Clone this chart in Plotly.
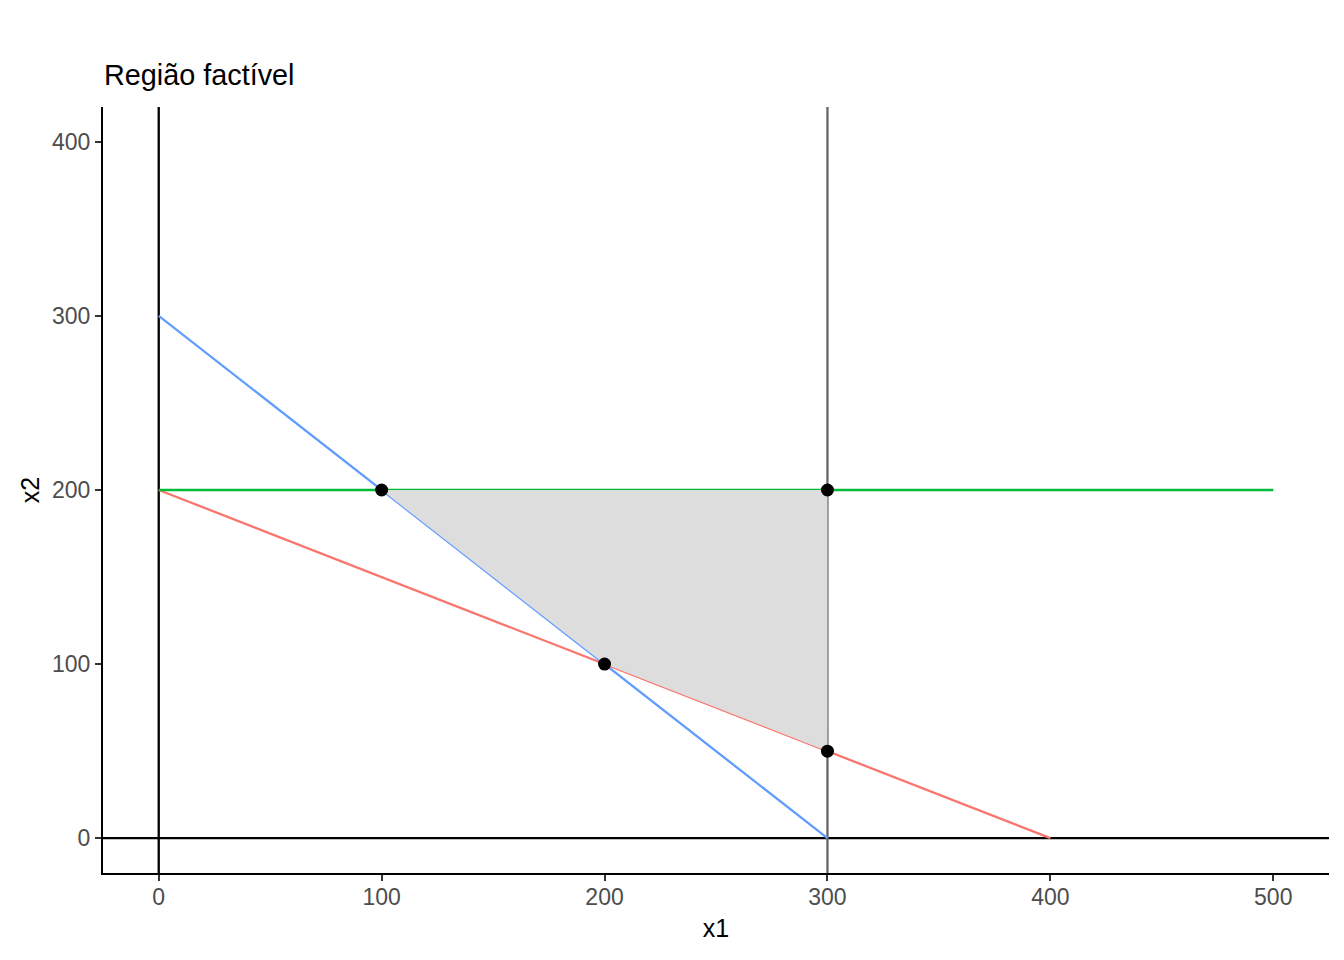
import plotly.graph_objects as go

# Constraint lines
blue_x = [0, 300]
blue_y = [300, 0]
red_x = [0, 400]
red_y = [200, 0]
green_x = [0, 500]
green_y = [200, 200]
vline_gray_x = 300
# Feasible region polygon
region_x = [100, 300, 300, 200, 100]
region_y = [200, 200, 50, 100, 200]
# Vertices
pts_x = [100, 200, 300, 300]
pts_y = [200, 100, 50, 200]

x_ticks = [0, 100, 200, 300, 400, 500]
y_ticks = [0, 100, 200, 300, 400]

FONT = "Liberation Sans"
W, H = 1328, 944
OFF = 8  # default body margin of the html page

fig = go.Figure()
lw = 2.3
fig.add_trace(go.Scatter(x=[0, 0], y=[-20, 420], mode="lines", line=dict(color="black", width=lw), hoverinfo="skip"))
fig.add_trace(go.Scatter(x=[-25, 525], y=[0, 0], mode="lines", line=dict(color="black", width=lw), hoverinfo="skip"))
fig.add_trace(go.Scatter(x=[vline_gray_x, vline_gray_x], y=[-20, 420], mode="lines", line=dict(color="#666666", width=lw), hoverinfo="skip"))
fig.add_trace(go.Scatter(x=blue_x, y=blue_y, mode="lines", line=dict(color="#619CFF", width=lw)))
fig.add_trace(go.Scatter(x=red_x, y=red_y, mode="lines", line=dict(color="#F8766D", width=lw)))
fig.add_trace(go.Scatter(x=green_x, y=green_y, mode="lines", line=dict(color="#00BA38", width=lw)))
fig.add_trace(go.Scatter(x=region_x, y=region_y, mode="lines", fill="toself",
                         fillcolor="#DDDDDD", line=dict(width=0), hoverinfo="skip"))
fig.add_trace(go.Scatter(x=pts_x, y=pts_y, mode="markers", marker=dict(color="black", size=13)))

axis_common = dict(
    showgrid=False, zeroline=False, showline=True, linecolor="black", linewidth=2.2,
    ticks="outside", ticklen=6, tickwidth=2.2, tickcolor="#333333",
    tickfont=dict(size=23, color="#4D4D4D", family=FONT),
    title_font=dict(size=25, color="black", family=FONT),
)
fig.update_xaxes(range=[-25, 525], tickvals=x_ticks, title_text="x1", title_standoff=11,
                 ticklabelstandoff=-4, **axis_common)
fig.update_yaxes(range=[-20, 420], tickvals=y_ticks, title_text="x2", title_standoff=5, **axis_common)

fig.update_layout(
    width=W, height=H, showlegend=False,
    plot_bgcolor="white", paper_bgcolor="white",
    margin=dict(l=103 - OFF, r=1344 - 1329 - OFF, t=107 - OFF, b=H + OFF - 873),
    font=dict(family=FONT),
    title=dict(text="Região factível", x=(104 - OFF) / W, xanchor="left", y=1 - (75 - OFF) / H, yanchor="middle",
               font=dict(size=28.8, color="black", family=FONT)),
)
fig.write_html("out.html")
